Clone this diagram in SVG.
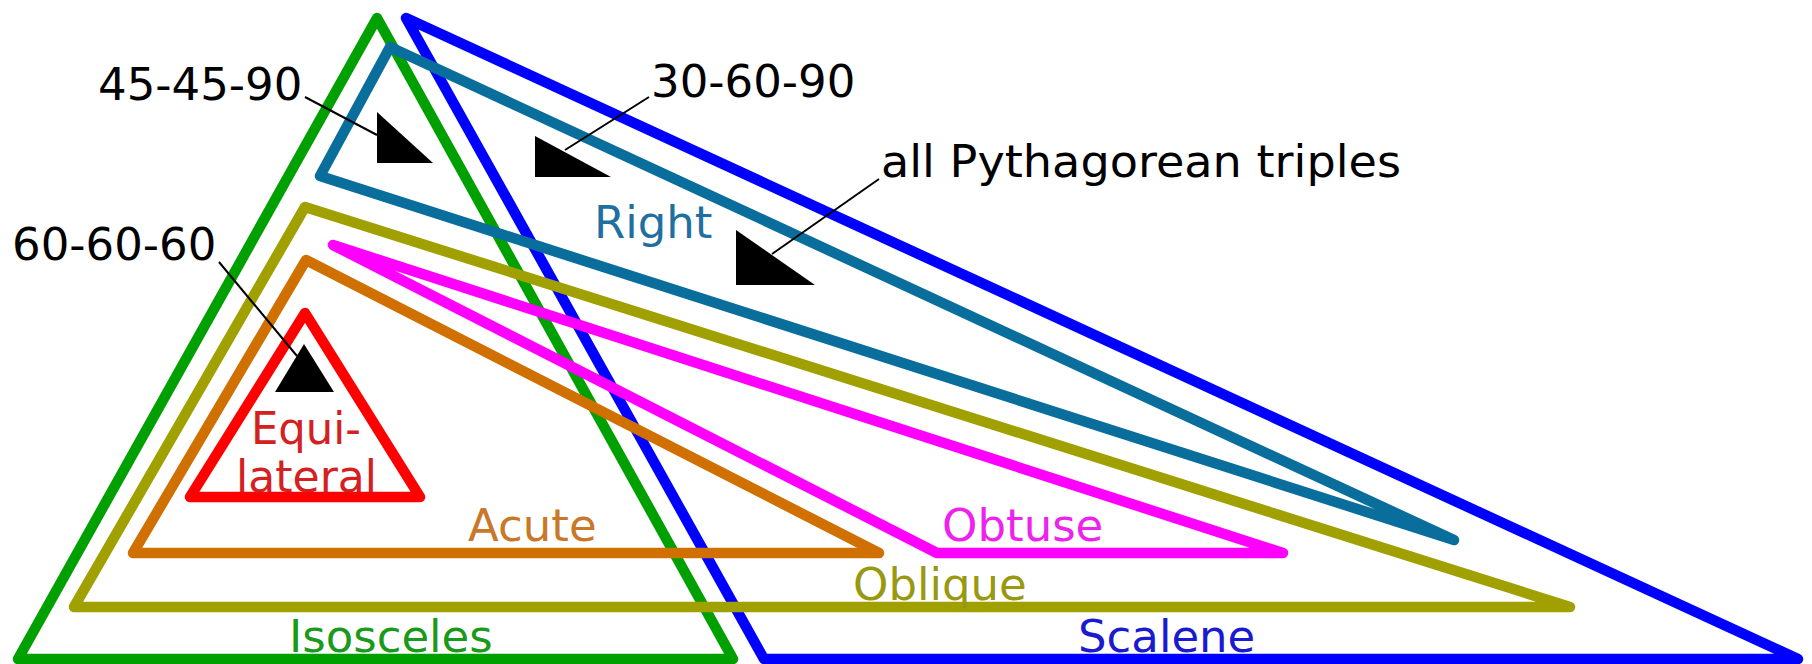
<svg xmlns="http://www.w3.org/2000/svg" width="1812" height="664" viewBox="0 0 1812 664">
<style>
.t{fill:none;stroke-width:10.5;stroke-linejoin:round;stroke-linecap:round}
.lbl{font-family:"DejaVu Sans","Liberation Sans",sans-serif;font-size:45px}
.ex{fill:#000}
.lead{stroke:#000;stroke-width:2;fill:none}
</style>
<rect width="1812" height="664" fill="#fff"/>
<g id="isosceles">
<polygon class="t" stroke="#00a000" points="377,18 733,659 18,659"/>
<text class="lbl" fill="#1a9a1a" x="289" y="652">Isosceles</text>
</g>
<g id="scalene">
<polygon class="t" stroke="#0000ff" points="406,18 1798,659 764,659"/>
<text class="lbl" fill="#1a1ad0" x="1078" y="652">Scalene</text>
</g>
<g id="right">
<polygon class="t" stroke="#0a6e9c" points="390,47 1454,540 320,176"/>
<text class="lbl" fill="#1f70a0" x="594" y="238">Right</text>
</g>
<g id="oblique">
<polygon class="t" stroke="#a0a000" points="305,207 1570,607 74,607"/>
<text class="lbl" fill="#999911" x="853" y="600">Oblique</text>
</g>
<g id="acute">
<polygon class="t" stroke="#d07000" points="306,260 879,553 133,553"/>
<text class="lbl" fill="#c87828" x="468" y="541">Acute</text>
</g>
<g id="obtuse">
<polygon class="t" stroke="#ff00ff" points="333,245 1283,553 937,553"/>
<text class="lbl" fill="#ee22ee" x="942" y="541">Obtuse</text>
</g>
<g id="equilateral">
<polygon class="t" stroke="#ff0000" stroke-width="12" points="305,313 420,497 190,497"/>
<text class="lbl" fill="#d42020" font-size="39" x="251" y="444" textLength="110" lengthAdjust="spacingAndGlyphs">Equi-</text>
<text class="lbl" fill="#d42020" font-size="39" x="236" y="492" textLength="141" lengthAdjust="spacingAndGlyphs">lateral</text>
</g>
<g id="tri-45-45-90">
<polygon class="ex" points="377,112 377,163 433,163"/>
<text class="lbl" fill="#000" x="98" y="100">45-45-90</text>
</g>
<g id="tri-30-60-90">
<polygon class="ex" points="535,136 535,177 611,177"/>
<text class="lbl" fill="#000" x="651" y="97">30-60-90</text>
</g>
<g id="tri-pythagorean">
<polygon class="ex" points="736,230 736,285 815,285"/>
<text class="lbl" fill="#000" x="881" y="177" textLength="520" lengthAdjust="spacingAndGlyphs">all Pythagorean triples</text>
</g>
<g id="tri-60-60-60">
<polygon class="ex" points="304,344 275,392 334,392"/>
<text class="lbl" fill="#000" x="12" y="260">60-60-60</text>
</g>
<g id="connectors">
<line class="lead" x1="305" y1="97" x2="377" y2="135"/>
<line class="lead" x1="649" y1="97" x2="565" y2="150"/>
<line class="lead" x1="879" y1="179" x2="772" y2="254"/>
<line class="lead" x1="219" y1="262" x2="297" y2="356"/>
</g>
</svg>
